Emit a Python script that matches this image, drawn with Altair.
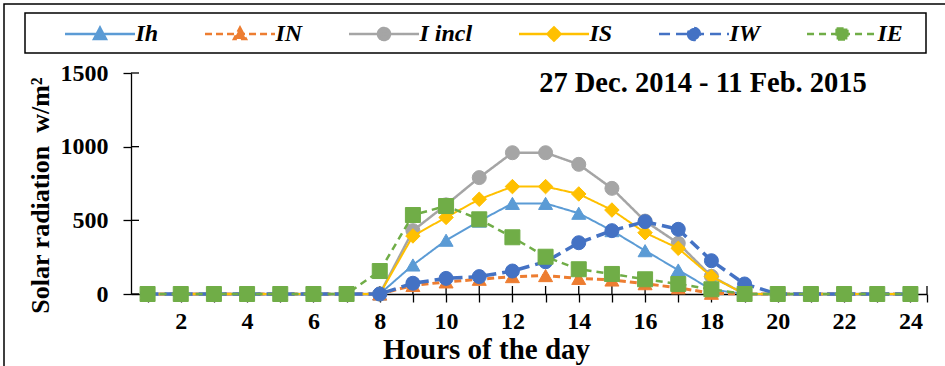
import altair as alt
import pandas as pd

# ---------------- data ----------------
hours = list(range(1, 25))
series_names = ["Ih", "IN", "I incl", "IS", "IW", "IE"]
Ih     = [0, 0, 0, 0, 0, 0, 0, 0, 197, 365, 495, 615, 615, 548, 430, 294, 163, 30, 0, 0, 0, 0, 0, 0]
IN     = [0, 0, 0, 0, 0, 0, 0, 0, 58, 82, 100, 118, 125, 106, 95, 70, 42, 5, 0, 0, 0, 0, 0, 0]
I_incl = [0, 0, 0, 0, 0, 0, 0, 0, 430, 605, 790, 959, 959, 880, 717, 495, 344, 120, 0, 0, 0, 0, 0, 0]
IS     = [0, 0, 0, 0, 0, 0, 0, 0, 394, 520, 643, 729, 729, 679, 570, 416, 310, 118, 0, 0, 0, 0, 0, 0]
IW     = [0, 0, 0, 0, 0, 0, 0, 0, 73, 106, 118, 156, 219, 348, 430, 491, 439, 226, 68, 0, 0, 0, 0, 0]
IE     = [0, 0, 0, 0, 0, 0, 0, 156, 536, 597, 507, 385, 253, 168, 136, 100, 68, 32, 0, 0, 0, 0, 0, 0]
series_values = [Ih, IN, I_incl, IS, IW, IE]

x_tick_values = hours + [24.5]
y_tick_values = [0, 500, 1000, 1500]
chart_title = "27 Dec. 2014 - 11 Feb. 2015"
x_title = "Hours of the day"
y_title = "Solar radiation\u00a0 w/m\u00b2"

# ---------------- styles ----------------
colors = ["#5B9BD5", "#ED7D31", "#A5A5A5", "#FFC000", "#4472C4", "#70AD47"]
dashes = [[1, 0], [7, 4], [1, 0], [1, 0], [11, 6], [7, 5]]
line_widths = [2, 3, 2.5, 2, 3.5, 2.5]
shapes = ["triangle-up", "triangle-up", "circle", "diamond", "circle", "square"]
marker_sizes = [196, 196, 196, 210, 196, 225]
legend_paths = [
    "M-5.83,0H5.83M0,-1.05L1.0,0.85L-1.0,0.85Z",
    "M-5.83,0H5.83M0,-1.05L1.0,0.85L-1.0,0.85Z",
    "M-5.83,0H5.83M-1,0A1,1,0,1,0,1,0A1,1,0,1,0,-1,0Z",
    "M-5.83,0H5.83M0,-1.1L1.1,0L0,1.1L-1.1,0Z",
    "M-5.83,0H5.83M-1,0A1,1,0,1,0,1,0A1,1,0,1,0,-1,0Z",
    "M-5.83,0H5.83M-0.9,-0.9H0.9V0.9H-0.9Z",
]

FONT = "Liberation Serif"
W, H = 796, 221
LEFT, TOP = 131, 73

rows = []
for name, vals in zip(series_names, series_values):
    for h, v in zip(hours, vals):
        rows.append({"series": name, "hour": h, "value": v})
df = pd.DataFrame(rows)

x_axis = alt.Axis(
    values=x_tick_values,
    labelExpr="datum.value % 2 == 0 ? datum.value : ''",
    tickSize=8, tickWidth=1.3, tickColor="black",
    domainColor="black", domainWidth=1.3,
    labelFont=FONT, labelFontSize=24, labelFontWeight="bold", labelColor="black",
    labelPadding=7, labelOverlap=False, labelFlush=False,
    grid=False,
    title=x_title, titleFont=FONT, titleFontSize=29, titleFontWeight="bold",
    titleColor="black", titleX=355, titleY=64, titleAlign="center",
    titleBaseline="alphabetic", titleAnchor="start",
)
y_axis = alt.Axis(
    values=y_tick_values, format="d",
    tickSize=8, tickWidth=1.3, tickColor="black",
    domainColor="black", domainWidth=1.3,
    labelFont=FONT, labelFontSize=24, labelFontWeight="bold", labelColor="black",
    labelPadding=15, grid=False,
    title=y_title, titleFont=FONT, titleFontSize=26, titleFontWeight="bold",
    titleColor="black", titleAngle=-90, titleX=-83, titleY=122,
    titleAlign="center", titleBaseline="alphabetic", titleAnchor="start",
)
x_enc = alt.X("hour:Q", scale=alt.Scale(domain=[0.5, 24.5], nice=False, zero=False), axis=x_axis)
y_enc = alt.Y("value:Q", scale=alt.Scale(domain=[0, 1500], nice=False), axis=y_axis)

layers = []

# outer frame and legend box (decoration)
frame = alt.Chart(pd.DataFrame({"a": [0]})).mark_rect(
    fill=None, stroke="black", strokeWidth=1.5
).encode(x=alt.value(4 - LEFT), x2=alt.value(1000), y=alt.value(4 - TOP), y2=alt.value(500))
legend_box = alt.Chart(pd.DataFrame({"a": [0]})).mark_rect(
    fill=None, stroke="black", strokeWidth=1.5
).encode(x=alt.value(25 - LEFT), x2=alt.value(926 - LEFT), y=alt.value(13 - TOP), y2=alt.value(53 - TOP))
layers += [frame, legend_box]

# inward halves of the crossing tick marks
xt = alt.Chart(pd.DataFrame({"hour": x_tick_values})).mark_rule(color="black", strokeWidth=1.3).encode(
    x=x_enc, y=alt.value(H - 8), y2=alt.value(H))
yt = alt.Chart(pd.DataFrame({"value": y_tick_values})).mark_rule(color="black", strokeWidth=1.3).encode(
    y=y_enc, x=alt.value(0), x2=alt.value(8))
layers += [xt, yt]

for i, name in enumerate(series_names):
    base = alt.Chart(df).transform_filter(alt.datum.series == name)
    ln = base.mark_line(color=colors[i], strokeWidth=line_widths[i], strokeDash=dashes[i]).encode(
        x=x_enc, y=y_enc, order="hour:Q")
    pt = base.mark_point(shape=shapes[i], size=marker_sizes[i], filled=True, fill=colors[i],
                         stroke=colors[i], strokeWidth=1, opacity=1).encode(x=x_enc, y=y_enc)
    layers += [ln, pt]

# legend (from an empty layer whose scales carry the legend symbols)
leg_df = pd.DataFrame({"series": series_names, "hour": [1] * 6, "value": [0] * 6})
leg = alt.Chart(leg_df).transform_filter("false").mark_point(filled=True, strokeWidth=2.5).encode(
    x=x_enc, y=y_enc,
    fill=alt.Fill("series:N", scale=alt.Scale(domain=series_names, range=colors), legend=None),
    stroke=alt.Stroke("series:N", scale=alt.Scale(domain=series_names, range=colors), legend=None),
    strokeDash=alt.StrokeDash("series:N", scale=alt.Scale(domain=series_names, range=dashes), legend=None),
    shape=alt.Shape("series:N", scale=alt.Scale(domain=series_names, range=legend_paths),
                    legend=alt.Legend(
                        title=None, orient="none", legendX=60 - LEFT, legendY=22 - TOP,
                        direction="horizontal", columns=6, padding=0,
                        symbolSize=144, symbolStrokeWidth=2.5, symbolOffset=28,
                        labelOffset=23.5, columnPadding=41, symbolOpacity=1,
                        labelFont=FONT, labelFontSize=24, labelFontStyle="italic",
                        labelFontWeight="bold", labelColor="black", labelLimit=300,
                    )),
)
layers.append(leg)

title_layer = alt.Chart(pd.DataFrame({"t": [chart_title]})).mark_text(
    font=FONT, fontSize=28.5, fontWeight="bold", color="black", align="center", baseline="alphabetic"
).encode(text="t:N", x=alt.value(703 - LEFT), y=alt.value(92 - TOP))
layers.append(title_layer)

chart = alt.layer(*layers).properties(
    width=W, height=H,
    autosize=alt.AutoSizeParams(type="none"),
    padding={"left": LEFT, "top": TOP, "right": 945 - LEFT - W, "bottom": 366 - TOP - H},
    background="white",
).configure_view(stroke=None)

chart.save("out.html", embed_options={"renderer": "svg", "actions": False})
